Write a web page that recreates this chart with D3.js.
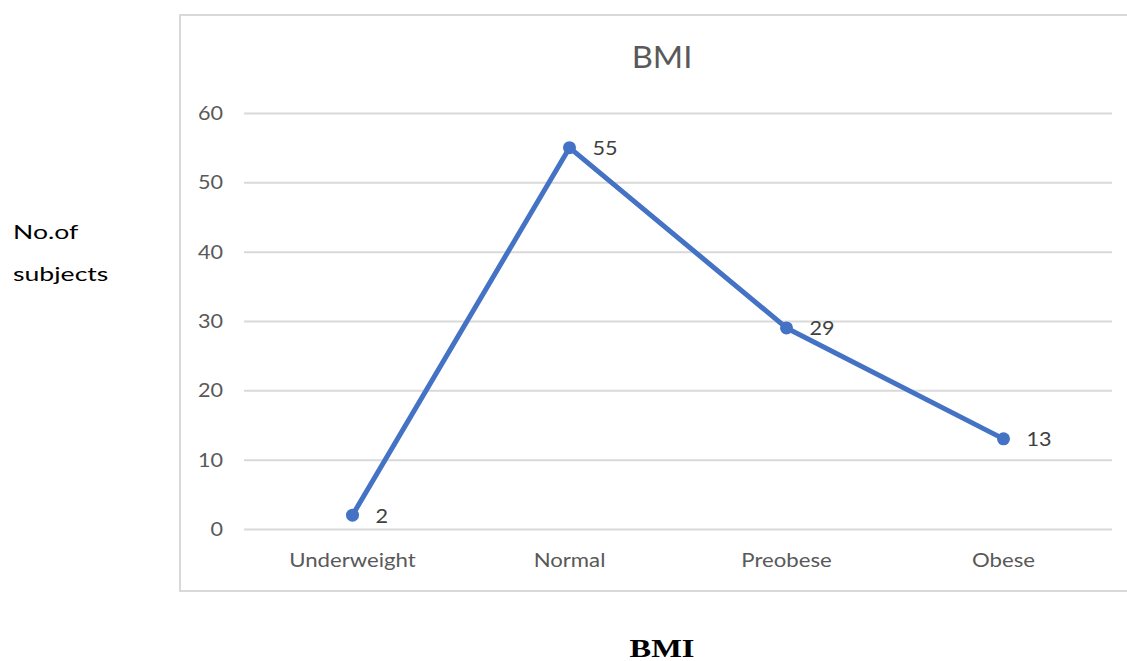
<!DOCTYPE html>
<html>
<head>
<meta charset="utf-8">
<script src="https://cdn.jsdelivr.net/npm/d3@7"></script>
<style>
  html, body { margin: 0; padding: 0; background: #fff; }
  svg { display: block; }
</style>
</head>
<body>
<svg id="chart" width="1127" height="661"></svg>
<script>
// BMI distribution of subjects
const categories = ["Underweight", "Normal", "Preobese", "Obese"];
const subjects = [2, 55, 29, 13];
const yTicks = [0, 10, 20, 30, 40, 50, 60];

const svg = d3.select("#chart");
const plot = { left: 244, right: 1112, top: 113, bottom: 529 };
const sans = "Lato, 'Open Sans', sans-serif";

// Places a text at (x, y) with a horizontal stretch factor sx
function label(g, x, y, str, opts) {
  const t = g.append("text")
    .attr("transform", `translate(${x},${y}) scale(${opts.sx || 1},1)`)
    .attr("text-anchor", opts.anchor || "start")
    .attr("fill", opts.fill || "#595959")
    .style("font-family", opts.family || sans)
    .style("font-size", opts.size + "px")
    .text(str);
  if (opts.weight) t.style("font-weight", opts.weight);
  return t;
}

// Chart frame
svg.append("rect")
  .attr("x", 180).attr("y", 15)
  .attr("width", 960).attr("height", 576)
  .attr("fill", "#fff")
  .attr("stroke", "#d9d9d9").attr("stroke-width", 2);

const x = d3.scaleBand().domain(categories).range([plot.left, plot.right]);
const y = d3.scaleLinear().domain([0, 60]).range([plot.bottom, plot.top]);
const cx = c => x(c) + x.bandwidth() / 2;

// Horizontal gridlines
const yAxis = d3.axisLeft(y).tickValues(yTicks).tickSize(-(plot.right - plot.left)).tickFormat("");
const gy = svg.append("g").attr("transform", `translate(${plot.left},0)`).call(yAxis);
gy.select(".domain").remove();
gy.selectAll(".tick line").attr("stroke", "#d9d9d9").attr("stroke-width", 2);

// Y tick labels, right-aligned left of the gridlines
const tickG = svg.append("g");
yTicks.forEach(v => label(tickG, plot.left - 21, y(v) + 7, d3.format("d")(v),
  { anchor: "end", size: 20, sx: 1.08 }));

// Category labels
const catG = svg.append("g");
categories.forEach(c => label(catG, cx(c), plot.bottom + 38, c,
  { anchor: "middle", size: 20, sx: 1.11 }));

// Title
label(svg, (plot.left + plot.right) / 2 - 16, 68, "BMI",
  { anchor: "middle", size: 30, sx: 1.09 });

// Series line and markers
const pts = categories.map((c, i) => ({ c, v: subjects[i] }));
const line = d3.line().x(d => cx(d.c)).y(d => y(d.v));
svg.append("path")
  .datum(pts)
  .attr("d", line)
  .attr("fill", "none")
  .attr("stroke", "#4472c4")
  .attr("stroke-width", 5)
  .attr("stroke-linejoin", "round");

svg.selectAll("circle.pt")
  .data(pts).join("circle")
  .attr("class", "pt")
  .attr("cx", d => cx(d.c))
  .attr("cy", d => y(d.v))
  .attr("r", 6.5)
  .attr("fill", "#4472c4");

// Data labels
const valG = svg.append("g");
pts.forEach(d => label(valG, cx(d.c) + 23, y(d.v) + 7.5, d.v,
  { size: 20, sx: 1.08, fill: "#404040" }));

// Axis titles outside the frame
label(svg, 13, 239, "No.of", { size: 20, sx: 1.33, fill: "#000" });
label(svg, 13, 281, "subjects", { size: 20, sx: 1.33, fill: "#000" });

label(svg, 662, 657, "BMI", {
  anchor: "middle", size: 25, sx: 1.3, fill: "#000",
  family: "'Liberation Serif', 'Times New Roman', serif", weight: "bold"
});
</script>
</body>
</html>
